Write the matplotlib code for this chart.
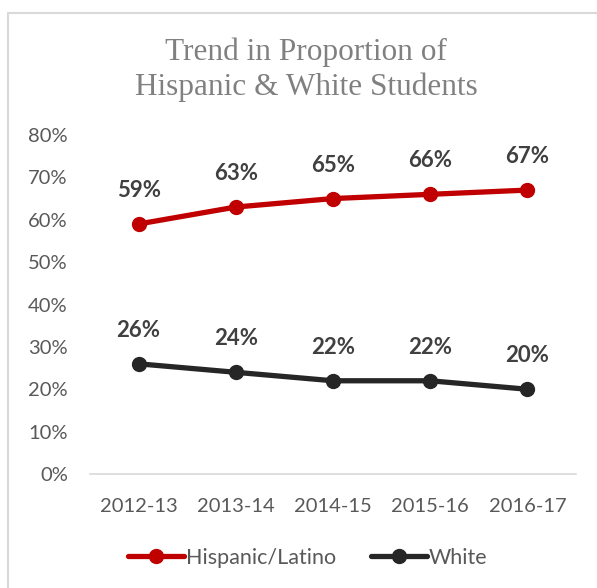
import matplotlib
matplotlib.use("Agg")
import matplotlib.pyplot as plt
from matplotlib.patches import Rectangle

years = ["2012-13", "2013-14", "2014-15", "2015-16", "2016-17"]
hispanic = [59, 63, 65, 66, 67]
white = [26, 24, 22, 22, 20]
yticks = [0, 10, 20, 30, 40, 50, 60, 70, 80]

RED = "#C00000"
DARK = "#262626"
TICK = "#595959"
LABEL = "#404040"
SANS = ["Lato", "DejaVu Sans"]
SERIF = ["Liberation Serif", "DejaVu Serif"]

fig = plt.figure(figsize=(5.97, 5.88), dpi=100)
fig.patches.append(Rectangle((8/597, -0.05), 1.2, 1 - 13/588 + 0.05, transform=fig.transFigure,
                             fill=False, edgecolor="#D9D9D9", linewidth=1.5))
ax = fig.add_axes([90/597, 1 - 474/588, 486/597, (474 - 135)/588])

x = list(range(len(years)))
ax.plot(x, hispanic, color=RED, lw=3.8, marker="o", ms=10, label="Hispanic/Latino", solid_capstyle="round")
ax.plot(x, white, color=DARK, lw=3.8, marker="o", ms=10, label="White", solid_capstyle="round")

for xi, v in zip(x, hispanic):
    ax.annotate(f"{v}%", (xi, v), xytext=(0, 24), textcoords="offset points", ha="center", va="center",
                fontsize=16, fontweight="bold", color=LABEL, family=SANS)
for xi, v in zip(x, white):
    ax.annotate(f"{v}%", (xi, v), xytext=(0, 24), textcoords="offset points", ha="center", va="center",
                fontsize=16, fontweight="bold", color=LABEL, family=SANS)

ax.set_xlim(-0.5, len(years) - 0.5)
ax.set_ylim(0, 80)
ax.set_yticks(yticks)
ax.set_yticklabels([f"{t}%" for t in yticks])
ax.set_xticks(x)
ax.set_xticklabels(years)
for s in ax.spines.values():
    s.set_visible(False)
ax.spines["bottom"].set_visible(True)
ax.spines["bottom"].set_color("#D9D9D9")
ax.spines["bottom"].set_linewidth(1.2)
ax.tick_params(length=0, colors=TICK, labelsize=14.5)
ax.tick_params(axis="y", pad=16)
ax.tick_params(axis="x", pad=17)
for lab in ax.get_xticklabels() + ax.get_yticklabels():
    lab.set_family(SANS)
    lab.set_color(TICK)

fig.text(306/597, 1 - 60/588, "Trend in Proportion of", ha="center", va="baseline",
         fontsize=22.5, color="#808080", family=SERIF)
fig.text(306/597, 1 - 95/588, "Hispanic & White Students", ha="center", va="baseline",
         fontsize=22.5, color="#808080", family=SERIF)

leg = fig.legend(loc="center", bbox_to_anchor=(308/597, 1 - 558/588), ncol=2, frameon=False,
                 prop={"family": SANS, "size": 15.5}, handlelength=2.6, handletextpad=0.1,
                 columnspacing=1.6, labelcolor=TICK)

fig.savefig("out.png", dpi=100)
